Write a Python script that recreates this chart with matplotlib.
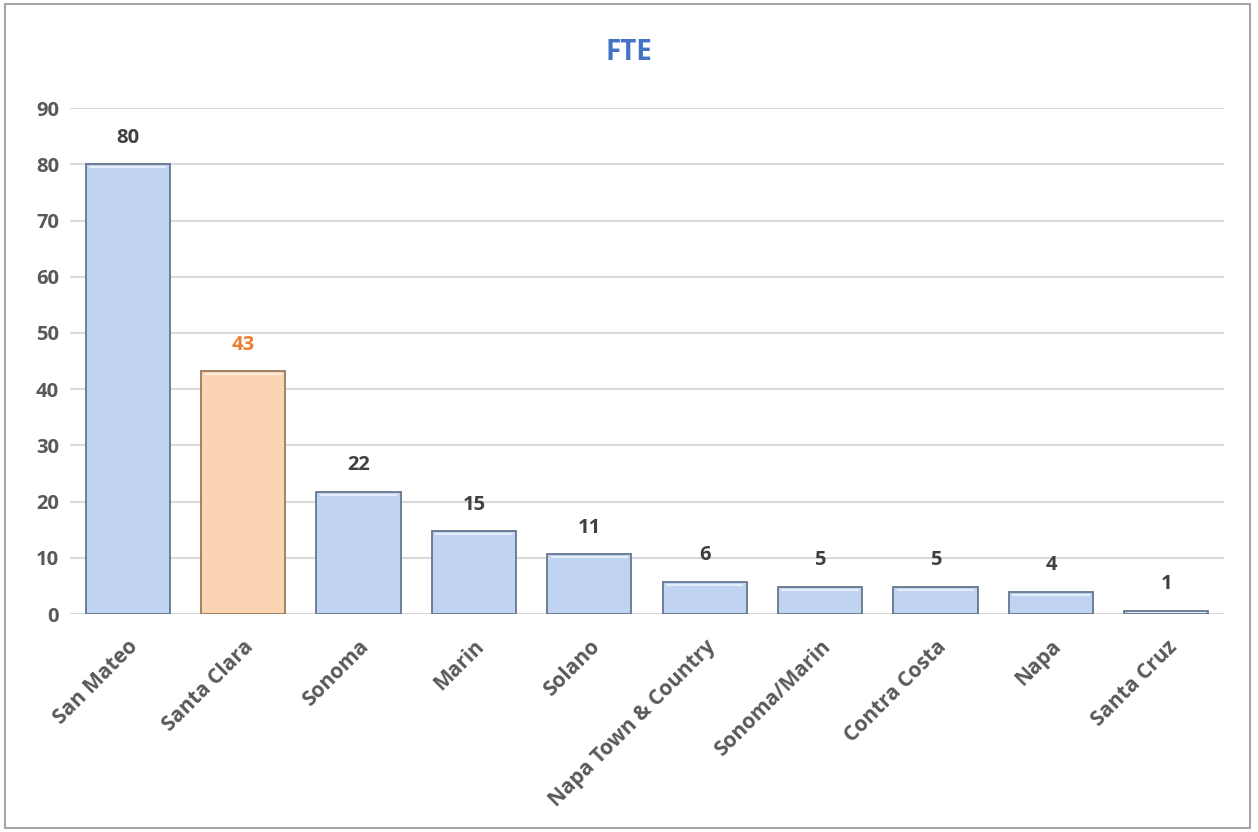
import matplotlib
matplotlib.use('Agg')
import matplotlib.pyplot as plt
from matplotlib.patches import Rectangle

plt.rcParams['font.family'] = ['Open Sans', 'DejaVu Sans']

# Data
counties = ['San Mateo', 'Santa Clara', 'Sonoma', 'Marin', 'Solano',
            'Napa Town & Country', 'Sonoma/Marin', 'Contra Costa', 'Napa', 'Santa Cruz']
fte = [80, 43.2, 21.7, 14.7, 10.6, 5.7, 4.8, 4.8, 3.9, 0.6]
highlight = 'Santa Clara'
y_ticks = [0, 10, 20, 30, 40, 50, 60, 70, 80, 90]

BLUE = '#C0D3F1'
BLUE_EDGE = '#66768F'
ORANGE = '#FBD4B4'
ORANGE_EDGE = '#9A7A5C'
LABEL_ORANGE = '#ED7D31'
TEXT_GRAY = '#404040'
TICK_GRAY = '#595959'

fig = plt.figure(figsize=(12.58, 8.32), dpi=100)
ax = fig.add_axes([0.0557, 0.262, 0.9173, 0.608])

x = list(range(len(counties)))
colors = [ORANGE if c == highlight else BLUE for c in counties]
edges = [ORANGE_EDGE if c == highlight else BLUE_EDGE for c in counties]
bars = ax.bar(x, fte, width=0.73, color=colors, edgecolor=edges, linewidth=1.3, zorder=3)

# thin light line just under the top of each bar (bevel look)
for b in bars:
    h = b.get_height()
    strip = min(0.35, h * 0.3)
    ax.add_patch(Rectangle((b.get_x() + 0.03, h - strip - 0.3), b.get_width() - 0.06, strip,
                           facecolor='white', alpha=0.6, linewidth=0, zorder=4))

# data labels
for c, b, v in zip(counties, bars, fte):
    col = LABEL_ORANGE if c == highlight else TEXT_GRAY
    ax.annotate(f"{int(v + 0.5)}", (b.get_x() + b.get_width() / 2, v),
                xytext=(0, 12), textcoords='offset points', ha='center', va='bottom',
                fontsize=14.5, fontweight='bold', color=col)

ax.set_xlim(-0.5, len(counties) - 0.5)
ax.set_ylim(0, 90)
ax.set_yticks(y_ticks)
ax.set_xticks(x)
ax.set_xticklabels(counties, rotation=45, ha='right', rotation_mode='anchor',
                   fontsize=15, fontweight='bold', color=TICK_GRAY)
for lbl in ax.get_yticklabels():
    lbl.set_fontsize(14.5)
    lbl.set_fontweight('bold')
    lbl.set_color(TICK_GRAY)

ax.grid(axis='y', color='#D9D9D9', linewidth=1.5, zorder=0)
ax.tick_params(axis='both', length=0)
ax.tick_params(axis='y', pad=8)
ax.tick_params(axis='x', pad=16)
for s in ax.spines.values():
    s.set_visible(False)

fig.text(0.5, 0.937, 'FTE', ha='center', va='center', fontsize=20,
         fontweight='bold', color='#4472C4')

# chart border
fig.add_artist(Rectangle((0.004, 0.005), 0.99, 0.99, transform=fig.transFigure,
                         fill=False, edgecolor='#A6A6A6', linewidth=1.5))

fig.savefig('out.png', dpi=100)
